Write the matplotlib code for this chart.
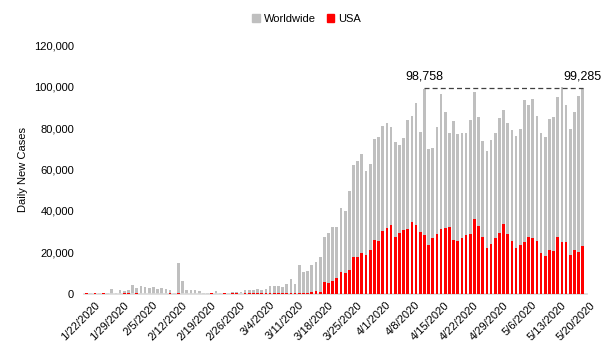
import numpy as np
import pandas as pd
import matplotlib
matplotlib.use('Agg')
import matplotlib.pyplot as plt
import matplotlib.transforms as mtransforms
from matplotlib.patches import Patch

plt.rcParams['font.family'] = ['Liberation Sans', 'DejaVu Sans']

# Datos (casos nuevos diarios)
fechas = pd.date_range('2020-01-22', '2020-05-20', freq='D')

worldwide = [
    555, 450, 500, 480, 520, 500, 2400, 500, 1900, 1400,
    1900, 4300, 2900, 3900, 3400, 2900, 3400, 2400, 2900, 2400,
    1900, 500, 15000, 6300, 1900, 1900, 1900, 1600, 500, 500,
    500, 1400, 500, 500, 500, 1000, 1000, 1000, 1900, 1900,
    1900, 2400, 1900, 2400, 3900, 3900, 3900, 3400, 4800, 7200,
    4800, 14000, 10600, 11100, 14000, 15400, 17800, 27500, 29400, 32300,
    32400, 41600, 40000, 49600, 62200, 64100, 67500, 59300, 62700, 74700,
    75700, 81000, 82400, 80500, 73300, 71800, 75200, 83900, 85800, 92000,
    78100, 98758, 69900, 70300, 80500, 96400, 87700, 77600, 83400, 77100,
    77500, 77600, 83900, 97300, 85300, 73700, 68900, 74200, 77600, 84800,
    88700, 82400, 79000, 76100, 79500, 93500, 91100, 94000, 85800, 77600,
    75700, 84300, 85300, 94900, 99900, 91300, 79300, 87900, 95600, 99285,
]

usa = [
    500, 0, 500, 0, 500, 0, 0, 0, 0, 500,
    500, 0, 500, 0, 0, 0, 0, 0, 0, 0,
    500, 0, 500, 0, 0, 0, 0, 0, 0, 0,
    500, 0, 0, 500, 0, 500, 500, 0, 500, 500,
    500, 500, 500, 500, 500, 500, 500, 500, 500, 500,
    500, 500, 500, 500, 1000, 1400, 1000, 5800, 5300, 6300,
    7700, 10600, 10100, 11600, 17800, 17800, 19800, 18800, 21200, 26000,
    25500, 30400, 31800, 33300, 27500, 29400, 30800, 31300, 34700, 33300,
    29900, 28400, 23800, 27000, 28900, 31300, 31800, 32300, 26000, 25500,
    27000, 28400, 28900, 36100, 32800, 27500, 22200, 24100, 27000, 29400,
    33700, 28900, 25500, 22200, 23600, 25100, 27500, 27000, 25500, 19800,
    18300, 21200, 20700, 27500, 25000, 25000, 18700, 21100, 20200, 23100,
]

etiquetas = [f"{d.month}/{d.day}/{d.year}" for d in fechas]
x = np.arange(len(fechas))

fig = plt.figure(figsize=(6.07, 3.55), dpi=100)
ax = fig.add_axes([0.138, 0.172, 0.829, 0.701])

ax.bar(x, worldwide, width=0.65, color='#BFBFBF', zorder=2)
ax.bar(x, usa, width=0.65, color='#FF0000', zorder=3)

ax.set_xlim(-0.7, 120.0)
ax.set_ylim(0, 120000)
ax.set_yticks(np.arange(0, 120001, 20000))
ax.yaxis.set_major_formatter(matplotlib.ticker.FuncFormatter(lambda v, p: f"{int(v):,}"))
ax.tick_params(axis='y', length=0, labelsize=8, pad=7)

ax.set_xticks(x[::7])
ax.set_xticklabels(etiquetas[::7], rotation=45, ha='right', va='center',
                   rotation_mode='anchor', fontsize=8)
ax.tick_params(axis='x', length=0, pad=7)
offset = mtransforms.ScaledTranslation(11 / 100, 0, fig.dpi_scale_trans)
for lbl in ax.get_xticklabels():
    lbl.set_transform(lbl.get_transform() + offset)

for s in ['top', 'right', 'left']:
    ax.spines[s].set_visible(False)
ax.spines['bottom'].set_color('#D9D9D9')
ax.spines['bottom'].set_linewidth(1.2)

ax.set_ylabel('Daily New Cases', fontsize=8, labelpad=4)

# Linea de referencia entre el pico de abril y el ultimo dato
i_pico = int(np.argmax(worldwide[:100]))
i_ult = len(worldwide) - 1
ax.plot([i_pico, i_ult], [worldwide[i_ult], worldwide[i_ult]], ls='--',
        color='#404040', lw=0.9, dashes=(4, 2.5), zorder=4)
for i in [i_pico, i_ult]:
    ax.annotate(f"{worldwide[i]:,}", xy=(i, worldwide[i_ult]), xytext=(0, 4),
                textcoords='offset points', ha='center', va='bottom', fontsize=9)

handles = [Patch(color='#BFBFBF', label='Worldwide'), Patch(color='#FF0000', label='USA')]
fig.legend(handles=handles, loc='upper center', bbox_to_anchor=(0.505, 0.99), ncol=2,
           frameon=False, fontsize=8, handlelength=0.7, handleheight=0.7,
           handletextpad=0.3, columnspacing=1.0)

fig.savefig('out.png', dpi=100)
